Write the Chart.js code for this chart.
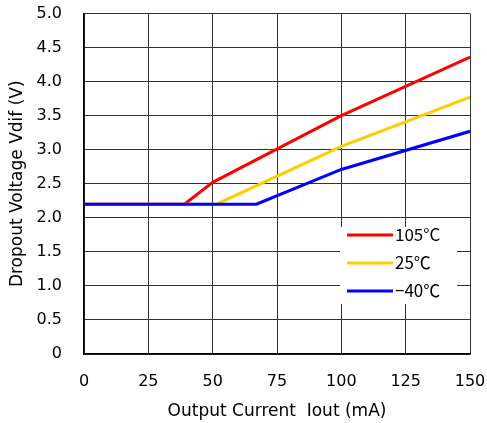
<!DOCTYPE html>
<html>
<head>
<meta charset="utf-8">
<script src="https://cdn.jsdelivr.net/npm/chart.js@4"></script>
<style>
  html, body { margin: 0; padding: 0; background: #fff; }
  #wrap { width: 487px; height: 423px; }
</style>
</head>
<body>
<div id="wrap"><canvas id="chart" width="487" height="423"></canvas></div>
<script>
// Output current (mA) breakpoints and dropout voltage (V) per temperature
const hotCurrent = [0, 39, 50, 100, 150];
const hotVoltage = [2.2, 2.2, 2.52, 3.5, 4.36];
const roomCurrent = [0, 51.5, 100, 150];
const roomVoltage = [2.2, 2.2, 3.05, 3.77];
const coldCurrent = [0, 67, 100, 150];
const coldVoltage = [2.2, 2.2, 2.71, 3.27];

const seriesLabels = ['105°C', '25℃', '−40℃'];
const seriesColors = ['#ff0000', '#ffcc00', '#0000ff'];

const xTicks = [0, 25, 50, 75, 100, 125, 150];
const yTicks = [0, 0.5, 1.0, 1.5, 2.0, 2.5, 3.0, 3.5, 4.0, 4.5, 5.0];

function toPoints(xs, ys) {
    return xs.map((x, i) => ({ x: x, y: ys[i] }));
}

const tickFont = { family: '"DejaVu Sans", sans-serif', size: 16 };
const titleFont = { family: '"DejaVu Sans", sans-serif', size: 17 };

// no extra room for labels that hang past the plot edges
function noOverflow(axis) {
    axis.paddingLeft = 0;
    axis.paddingRight = 0;
    axis.paddingTop = 0;
    axis.paddingBottom = 0;
}

// Legend drawn inside the plot area, over the grid
const innerLegend = {
    id: 'innerLegend',
    afterDatasetsDraw(chart) {
        const ctx = chart.ctx;
        const x0 = 340, y0 = 227, w = 117, h = 77;
        ctx.save();
        ctx.fillStyle = '#fff';
        ctx.fillRect(x0, y0, w, h);
        ctx.font = '17px "Noto Sans CJK JP", "DejaVu Sans"';
        ctx.textBaseline = 'middle';
        chart.data.datasets.forEach((ds, i) => {
            const y = 235 + i * 28;
            ctx.strokeStyle = ds.borderColor;
            ctx.lineWidth = 3;
            ctx.beginPath();
            ctx.moveTo(347, y);
            ctx.lineTo(393, y);
            ctx.stroke();
            ctx.fillStyle = '#000';
            ctx.fillText(ds.label, 395, y);
        });
        ctx.restore();
    }
};

new Chart(document.getElementById('chart'), {
    type: 'line',
    data: {
        datasets: [
            { label: seriesLabels[0], data: toPoints(hotCurrent, hotVoltage), borderColor: seriesColors[0], order: 3 },
            { label: seriesLabels[1], data: toPoints(roomCurrent, roomVoltage), borderColor: seriesColors[1], order: 2 },
            { label: seriesLabels[2], data: toPoints(coldCurrent, coldVoltage), borderColor: seriesColors[2], order: 1 }
        ].map(ds => Object.assign(ds, {
            borderWidth: 3,
            pointRadius: 0,
            fill: false,
            tension: 0
        }))
    },
    options: {
        responsive: false,
        animation: false,
        layout: { padding: { left: 0, right: 17, top: 13.5, bottom: 0 } },
        plugins: {
            legend: { display: false },
            tooltip: { enabled: false }
        },
        scales: {
            x: {
                type: 'linear',
                min: 0,
                max: 150,
                afterBuildTicks: axis => { axis.ticks = xTicks.map(v => ({ value: v })); },
                afterFit: axis => { axis.height = 69; noOverflow(axis); },
                ticks: {
                    color: '#000',
                    font: tickFont,
                    padding: 18,
                    maxRotation: 0
                },
                grid: { color: '#333', lineWidth: 1, drawTicks: false },
                border: { color: '#000', width: 1.5 },
                title: {
                    display: true,
                    text: 'Output Current  Iout (mA)',
                    color: '#000',
                    font: titleFont,
                    padding: { top: 0, bottom: 1 }
                }
            },
            y: {
                min: 0,
                max: 5,
                afterBuildTicks: axis => { axis.ticks = yTicks.map(v => ({ value: v })); },
                afterFit: axis => { axis.width = 84; noOverflow(axis); },
                ticks: {
                    color: '#000',
                    font: tickFont,
                    padding: 22,
                    callback: v => v === 0 ? '0' : v.toFixed(1)
                },
                grid: { color: '#333', lineWidth: 1, drawTicks: false },
                border: { color: '#000', width: 1.5 },
                title: {
                    display: true,
                    text: 'Dropout Voltage Vdif (V)',
                    color: '#000',
                    font: titleFont,
                    padding: { top: 7, bottom: 0 }
                }
            }
        }
    },
    plugins: [innerLegend]
});
</script>
</body>
</html>
